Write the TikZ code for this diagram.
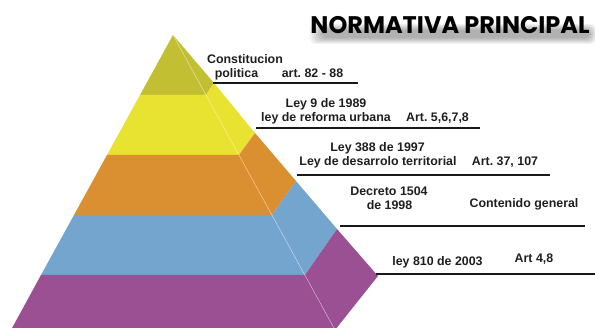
\documentclass[tikz,border=0pt]{standalone}
\usepackage{fontspec}
\setmainfont{Liberation Sans}
\newfontfamily\titlefont{Poppins}
\frenchspacing
\definecolor{olive}{HTML}{C2C032}
\definecolor{yel}{HTML}{E8E230}
\definecolor{ora}{HTML}{DA9030}
\definecolor{blu}{HTML}{74A5CF}
\definecolor{pur}{HTML}{9C5094}
\begin{document}
\begin{tikzpicture}[x=1pt,y=-1pt,
  lbl/.style={font=\fontsize{12.4}{14}\selectfont\bfseries, text=black!88, inner sep=0pt, anchor=base},
  rulel/.style={line width=1.8pt, black!90},
  ttl/.style={font=\titlefont\bfseries\fontsize{24}{28}\selectfont, inner sep=0pt, anchor=base}]
\useasboundingbox (0,0) rectangle (595,328);
% geometry
\coordinate (A) at (173,35);
\coordinate (L1) at (140,95);  \coordinate (I1) at (206,95);  \coordinate (O1) at (214,83);
\coordinate (L2) at (107,155); \coordinate (I2) at (239,155); \coordinate (O2) at (255,133);
\coordinate (L3) at (74,215);  \coordinate (I3) at (272,215); \coordinate (O3) at (296,181);
\coordinate (L4) at (41,275);  \coordinate (I4) at (305,275); \coordinate (O4) at (337,229);
\coordinate (L5) at (11,330);  \coordinate (I5) at (335,330); \coordinate (O5) at (378,276);
\begin{scope}
\clip (0,0) rectangle (595,328);
% front face
\fill[olive] (A) -- (I1) -- (L1) -- cycle;
\fill[yel] (L1) -- (I1) -- (I2) -- (L2) -- cycle;
\fill[ora] (L2) -- (I2) -- (I3) -- (L3) -- cycle;
\fill[blu] (L3) -- (I3) -- (I4) -- (L4) -- cycle;
\fill[pur] (L4) -- (I4) -- (I5) -- (L5) -- cycle;
% side face
\fill[olive] (A) -- (O1) -- (I1) -- cycle;
\fill[yel] (I1) -- (O1) -- (O2) -- (I2) -- cycle;
\fill[ora] (I2) -- (O2) -- (O3) -- (I3) -- cycle;
\fill[blu] (I3) -- (O3) -- (O4) -- (I4) -- cycle;
\fill[pur] (I4) -- (O4) -- (O5) -- (I5) -- cycle;
\draw[white, opacity=0.55, line width=0.4pt] (A) -- (I5);
% soft shadow under the title
\foreach \k in {0,1,2,3,4,5,6}{
  \fill[black, opacity=0.05, rounded corners=6pt] (310+2*\k,24+\k) rectangle (596-\k,44-\k);
}
\end{scope}
\node[ttl, text=black] (title) at (450,34) {NORMATIVA PRINCIPAL};
% rules
\coordinate (r1s) at (213,83);  \coordinate (r1e) at (358,83);
\coordinate (r2s) at (256,128); \coordinate (r2e) at (480,128);
\coordinate (r3s) at (297,175); \coordinate (r3e) at (550,175);
\coordinate (r4s) at (340,226); \coordinate (r4e) at (585,226);
\coordinate (r5s) at (376,274); \coordinate (r5e) at (595,274);
\draw[rulel] (r1s) -- (r1e);
\draw[rulel] (r2s) -- (r2e);
\draw[rulel] (r3s) -- (r3e);
\draw[rulel] (r4s) -- (r4e);
\draw[rulel] (r5s) -- (r5e);
% labels
\node[lbl] (t1a) at (245,64) {Constitucion};
\node[lbl] (t1b) at (236.5,78) {politica};
\node[lbl] (t1c) at (312.5,78) {art. 82 - 88};
\node[lbl] (t2a) at (326,107.5) {Ley 9 de 1989};
\node[lbl] (t2b) at (326,121.5) {ley de reforma urbana};
\node[lbl] (t2c) at (437.5,121.5) {Art. 5,6,7,8};
\node[lbl] (t3a) at (377.5,151.5) {Ley 388 de 1997};
\node[lbl] (t3b) at (378,165.5) {Ley de desarrolo territorial};
\node[lbl] (t3c) at (505,165.5) {Art. 37, 107};
\node[lbl] (t4a) at (389,196) {Decreto 1504};
\node[lbl] (t4b) at (389.5,209.5) {de 1998};
\node[lbl] (t4c) at (524,207.5) {Contenido general};
\node[lbl] (t5a) at (437.5,266) {ley 810 de 2003};
\node[lbl] (t5b) at (534,262.5) {Art 4,8};
\end{tikzpicture}
\end{document}
